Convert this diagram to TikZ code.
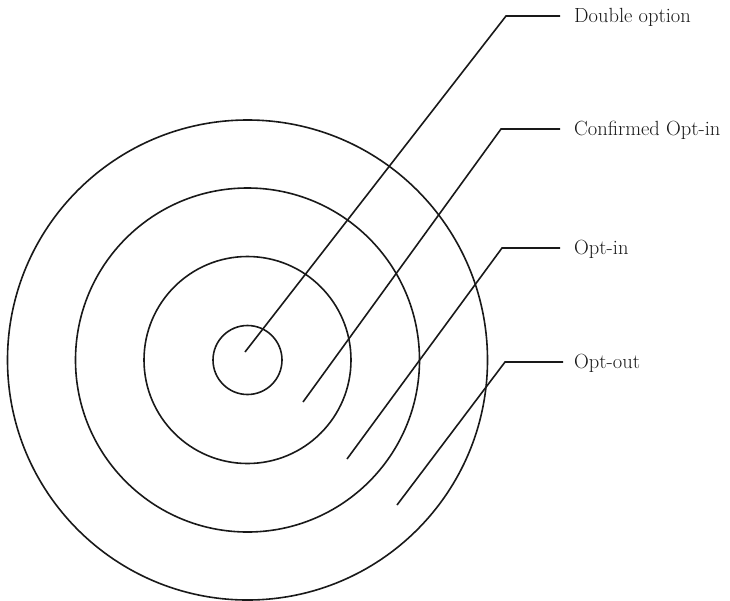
\documentclass[tikz,border=0pt]{standalone}
\begin{document}
\begin{tikzpicture}[x=1pt,y=-1pt,
  ring/.style={draw=black!90,line width=1.6pt},
  leader/.style={draw=black!90,line width=1.6pt},
  lbl/.style={anchor=base west,inner sep=0pt,font=\fontsize{20.5}{22}\selectfont,text=black!90}]
\useasboundingbox (0,0) rectangle (730,600);
\coordinate (ctr) at (247.5,360);
\draw[ring] (ctr) circle[radius=240];
\draw[ring] (ctr) circle[radius=172];
\draw[ring] (ctr) circle[radius=103.5];
\draw[ring] (ctr) circle[radius=34.5];
% leaders
\coordinate (s1) at (245,352); \coordinate (k1) at (506,16);  \coordinate (e1) at (560,16);
\coordinate (s2) at (303,402); \coordinate (k2) at (501,129); \coordinate (e2) at (560,129);
\coordinate (s3) at (347,459); \coordinate (k3) at (502,248); \coordinate (e3) at (560,248);
\coordinate (s4) at (397,505); \coordinate (k4) at (505,362); \coordinate (e4) at (563,362);
\draw[leader] (s1) -- (k1) -- (e1);
\draw[leader] (s2) -- (k2) -- (e2);
\draw[leader] (s3) -- (k3) -- (e3);
\draw[leader] (s4) -- (k4) -- (e4);
\node[lbl] (t1) at (574,22.5) {Double option};
\node[lbl] (t2) at (574,135.5) {Confirmed Opt-in};
\node[lbl] (t3) at (574,254.5) {Opt-in};
\node[lbl] (t4) at (574,368.5) {Opt-out};
\end{tikzpicture}
\end{document}
